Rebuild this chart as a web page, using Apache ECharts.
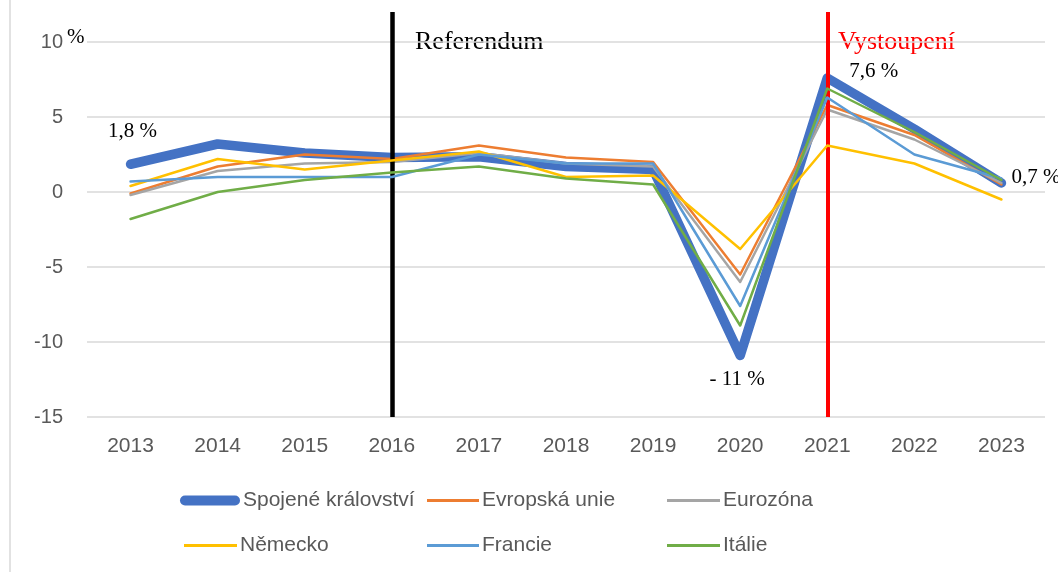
<!DOCTYPE html>
<html>
<head>
<meta charset="utf-8">
<script src="https://cdn.jsdelivr.net/npm/echarts@6/dist/echarts.min.js"></script>
<style>html,body{margin:0;padding:0;background:#fff;}#c{width:1058px;height:572px;}</style>
</head>
<body>
<div id="c"></div>
<script>
const years = ['2013','2014','2015','2016','2017','2018','2019','2020','2021','2022','2023'];
const seriesNames = ['Spojené království','Evropská unie','Eurozóna','Německo','Francie','Itálie'];
const uk      = [1.85, 3.2, 2.6, 2.3, 2.35, 1.7, 1.5, -10.9, 7.6, 4.2, 0.6];
const eu      = [-0.1, 1.7, 2.5, 2.2, 3.1, 2.3, 2.0, -5.5, 5.8, 3.8, 0.5];
const ez      = [-0.2, 1.4, 1.9, 2.0, 2.6, 1.9, 1.7, -6.0, 5.5, 3.5, 0.6];
const de      = [0.4, 2.2, 1.5, 2.1, 2.7, 1.0, 1.1, -3.8, 3.1, 1.9, -0.5];
const fr      = [0.7, 1.0, 1.0, 1.0, 2.5, 1.9, 1.9, -7.6, 6.3, 2.5, 0.9];
const it      = [-1.8, 0.0, 0.8, 1.3, 1.7, 0.9, 0.5, -8.9, 6.9, 4.0, 0.8];
const ukLabels = {'2013': '1,8 %', '2020': '- 11 %', '2021': '7,6 %', '2023': '0,7 %'};
const yTicks = [-15, -10, -5, 0, 5, 10];
const events = [{year: '2016', text: 'Referendum'}, {year: '2021', text: 'Vystoupení'}];
const colors = ['#4472C4', '#ED7D31', '#A5A5A5', '#FFC000', '#5B9BD5', '#70AD47'];

const serif = '"Liberation Serif", "Times New Roman", serif';
const sans = '"Liberation Sans", Arial, sans-serif';

const labelStyles = {
  '2013': {position: 'top', distance: 22, offset: [2, 0]},
  '2020': {position: 'bottom', distance: 13, offset: [-3, 0]},
  '2021': {position: 'right', distance: 22, offset: [0, -7]},
  '2023': {position: 'right', distance: 10, offset: [0, -6]}
};

const ukData = uk.map((v, i) => {
  const y = years[i];
  if (ukLabels[y]) {
    return {value: v, label: Object.assign({show: true, formatter: ukLabels[y], fontFamily: serif, fontSize: 21, color: '#000'}, labelStyles[y])};
  }
  return v;
});

const allValues = [ukData, eu, ez, de, fr, it];

const series = allValues.map((d, k) => ({
  name: seriesNames[k],
  type: 'line',
  data: d,
  symbol: 'circle',
  symbolSize: 0,
  showSymbol: true,
  silent: true,
  z: 2 + k,
  itemStyle: {color: colors[k]},
  lineStyle: {color: colors[k], width: k === 0 ? 9.5 : 2.5, cap: 'round', join: 'round'},
  emphasis: {disabled: true},
  animation: false
}));

series[0].markLine = {
  silent: true,
  symbol: 'none',
  animation: false,
  label: {show: false},
  data: [
    {xAxis: events[0].year, lineStyle: {color: '#000', width: 4.5, type: 'solid'}},
    {xAxis: events[1].year, lineStyle: {color: '#FF0000', width: 4, type: 'solid'}}
  ]
};

const pill = 'path://M5,0 L55,0 A5,5 0 0 1 55,10 L5,10 A5,5 0 0 1 5,0 Z';

const legendPos = [
  {left: 180, top: 490, w: 60, h: 10, icon: pill},
  {left: 427, top: 490, w: 52, h: 3, icon: 'rect'},
  {left: 667, top: 490, w: 53, h: 3, icon: 'rect'},
  {left: 184, top: 535, w: 53, h: 3, icon: 'rect'},
  {left: 427, top: 535, w: 52, h: 3, icon: 'rect'},
  {left: 667, top: 535, w: 53, h: 3, icon: 'rect'}
];

const legends = seriesNames.map((n, k) => ({
  data: [n],
  left: legendPos[k].left,
  top: legendPos[k].top,
  padding: 0,
  itemWidth: legendPos[k].w,
  itemHeight: legendPos[k].h,
  icon: legendPos[k].icon,
  selectedMode: false,
  textStyle: {fontFamily: sans, fontSize: 21, color: '#595959', padding: [0, 0, 0, -2]}
}));

const chart = echarts.init(document.getElementById('c'), null, {renderer: 'canvas'});
chart.setOption({
  backgroundColor: '#fff',
  animation: false,
  grid: {left: 87, right: 13, top: 12, bottom: 155},
  xAxis: {
    type: 'category',
    data: years,
    boundaryGap: true,
    axisLine: {show: false},
    axisTick: {show: false},
    axisLabel: {fontFamily: sans, fontSize: 21, color: '#595959', margin: 19},
    splitLine: {show: false}
  },
  yAxis: {
    type: 'value',
    min: yTicks[0],
    max: 12,
    interval: 5,
    axisLine: {show: false},
    axisTick: {show: false},
    axisLabel: {fontFamily: sans, fontSize: 20, color: '#595959', margin: 24, showMaxLabel: false},
    splitLine: {show: true, showMaxLine: false, lineStyle: {color: '#d9d9d9', width: 1.5}}
  },
  legend: legends,
  series: series,
  graphic: [
    {type: 'line', shape: {x1: 10, y1: 0, x2: 10, y2: 572}, style: {stroke: '#d9d9d9', lineWidth: 1.5}, silent: true},
    {type: 'text', left: 67, top: 27, style: {text: '%', font: '21px ' + serif, fill: '#000'}, silent: true},
    {type: 'text', left: 415, top: 29, style: {text: events[0].text, font: '26px ' + serif, fill: '#000'}, silent: true},
    {type: 'text', left: 838, top: 29, style: {text: events[1].text, font: '26px ' + serif, fill: '#FF0000'}, silent: true}
  ]
});
</script>
</body>
</html>
